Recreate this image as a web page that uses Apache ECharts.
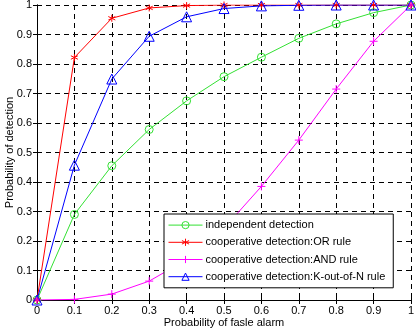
<!DOCTYPE html>
<html>
<head>
<meta charset="utf-8">
<script src="https://cdn.jsdelivr.net/npm/echarts@6/dist/echarts.min.js"></script>
<style>
  html, body { margin: 0; padding: 0; background: #fff; }
  #chart { width: 416px; height: 330px; }
</style>
</head>
<body>
<div id="chart"></div>
<script>
// false alarm probabilities (x axis)
var pf = [0, 0.1, 0.2, 0.3, 0.4, 0.5, 0.6, 0.7, 0.8, 0.9, 1];
// detection probabilities
var independent = [0, 0.29, 0.455, 0.578, 0.675, 0.757, 0.823, 0.887, 0.936, 0.974, 1];
var orRule = [0, 0.822, 0.955, 0.99, 0.998, 1, 1, 1, 1, 1, 1];
var andRule = [0, 0.002, 0.02, 0.064, 0.137, 0.243, 0.385, 0.542, 0.715, 0.877, 1];
var kofnRule = [0, 0.457, 0.749, 0.894, 0.96, 0.988, 0.997, 0.999, 1, 1, 1];
var names = [
  'independent detection',
  'cooperative detection:OR rule',
  'cooperative detection:AND rule',
  'cooperative detection:K-out-of-N rule'
];
var colors = ['#33e033', '#ff0000', '#ff00ff', '#0000ff'];

var chart = echarts.init(document.getElementById('chart'));
var font = 'Liberation Sans, Arial, sans-serif';

function pairs(ys) {
  return pf.map(function (x, i) { return [x, ys[i]]; });
}

// matlab style markers: 'o', '*', '+', '^' (outline only)
var circlePath = 'path://M10,5A5,5 0 1 1 0,5A5,5 0 1 1 10,5Z';
var starPath = 'path://M5,0L5,10M0.7,2.5L9.3,7.5M0.7,7.5L9.3,2.5';
var plusPath = 'path://M5,0L5,10M0,5L10,5';
var triPath = 'path://M5,0L10,8.5L0,8.5Z';
var symbols = [circlePath, starPath, plusPath, triPath];
var sizes = [8, 7, 8, 10];

function makeSeries(i, ys) {
  return {
    name: names[i],
    type: 'line',
    data: pairs(ys),
    color: colors[i],
    symbol: symbols[i],
    symbolSize: sizes[i],
    showAllSymbol: true,
    animation: false,
    lineStyle: { color: colors[i], width: 1 },
    itemStyle: { color: 'none', borderColor: colors[i], borderWidth: 1 },
    emphasis: { disabled: true }
  };
}

var legendData = names.map(function (n, i) {
  return {
    name: n,
    itemStyle: { color: 'none', borderColor: colors[i], borderWidth: 1 },
    lineStyle: { color: colors[i], width: 1 }
  };
});

var splitDash = { show: true, lineStyle: { color: '#000', type: [5, 4], width: 1 } };

var option = {
  backgroundColor: '#fff',
  animation: false,
  grid: { left: 37, right: 5, top: 5, bottom: 30, containLabel: false, outerBoundsMode: 'none' },
  legend: {
    orient: 'vertical',
    left: 164,
    top: 214,
    padding: [5, 8, 5, 4],
    itemWidth: 34,
    itemHeight: 9,
    itemGap: 5,
    backgroundColor: '#fff',
    borderColor: '#000',
    borderWidth: 1,
    textStyle: { fontFamily: font, fontSize: 11, color: '#000', padding: [0, 0, 0, -2] },
    data: legendData
  },
  xAxis: [{
    type: 'value',
    min: 0, max: 1, interval: 0.1,
    name: 'Probability of fasle alarm',
    nameLocation: 'middle',
    nameGap: 17,
    nameMoveOverlap: false,
    nameTextStyle: { fontFamily: font, fontSize: 11, color: '#000' },
    axisLine: { show: true, lineStyle: { color: '#000' } },
    axisTick: { show: true, inside: true, length: 4, lineStyle: { color: '#000' } },
    axisLabel: { fontFamily: font, fontSize: 11, color: '#000', margin: 5 },
    splitLine: splitDash
  }, {
    type: 'value',
    position: 'top',
    min: 0, max: 1, interval: 0.1,
    axisLine: { show: true, lineStyle: { color: '#000' } },
    axisTick: { show: true, inside: true, length: 4, lineStyle: { color: '#000' } },
    axisLabel: { show: false },
    splitLine: { show: false }
  }],
  yAxis: [{
    type: 'value',
    min: 0, max: 1, interval: 0.1,
    name: 'Probability of detection',
    nameLocation: 'middle',
    nameGap: 22,
    nameMoveOverlap: false,
    nameTextStyle: { fontFamily: font, fontSize: 11, color: '#000' },
    axisLine: { show: true, lineStyle: { color: '#000' } },
    axisTick: { show: true, inside: true, length: 4, lineStyle: { color: '#000' } },
    axisLabel: {
      fontFamily: font, fontSize: 11, color: '#000', margin: 5,
      formatter: function (v) { return String(Math.round(v * 10) / 10); }
    },
    splitLine: splitDash
  }, {
    type: 'value',
    position: 'right',
    min: 0, max: 1, interval: 0.1,
    axisLine: { show: true, lineStyle: { color: '#000' } },
    axisTick: { show: true, inside: true, length: 4, lineStyle: { color: '#000' } },
    axisLabel: { show: false },
    splitLine: { show: false }
  }],
  series: [
    makeSeries(0, independent),
    makeSeries(1, orRule),
    makeSeries(2, andRule),
    makeSeries(3, kofnRule)
  ]
};

chart.setOption(option);
</script>
</body>
</html>
